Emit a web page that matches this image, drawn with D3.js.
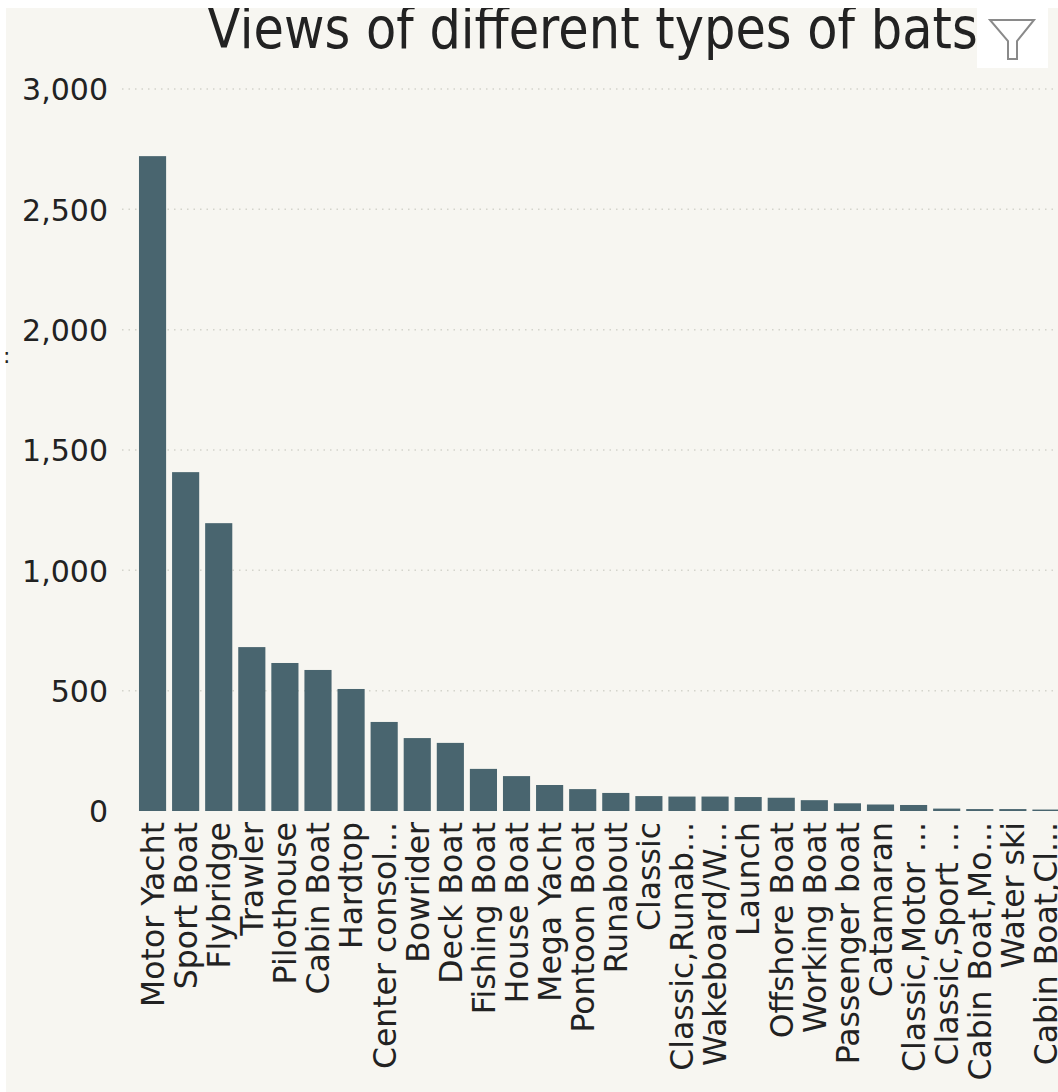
<!DOCTYPE html>
<html>
<head>
<meta charset="utf-8">
<script src="https://cdn.jsdelivr.net/npm/d3@7"></script>
<style>
  html, body { margin: 0; padding: 0; background: #fff; }
  text { font-family: "DejaVu Sans", sans-serif; fill: #222; }
</style>
</head>
<body>
<div id="root"></div>
<script>
const categories = ["Motor Yacht", "Sport Boat", "Flybridge", "Trawler", "Pilothouse", "Cabin Boat", "Hardtop",
  "Center consol...", "Bowrider", "Deck Boat", "Fishing Boat", "House Boat", "Mega Yacht", "Pontoon Boat",
  "Runabout", "Classic", "Classic,Runab...", "Wakeboard/W...", "Launch", "Offshore Boat", "Working Boat",
  "Passenger boat", "Catamaran", "Classic,Motor ...", "Classic,Sport ...", "Cabin Boat,Mo...", "Water ski", "Cabin Boat,Cl..."];
const views = [2721, 1408, 1196, 681, 615, 586, 507, 370, 303, 283, 175, 145, 108, 91, 75, 62, 60, 60, 58, 55, 45, 32, 27, 25, 10, 8, 8, 6];
const yTicks = [0, 500, 1000, 1500, 2000, 2500, 3000];
const title = "Views of different types of bats";

const width = 1058, height = 1092;

const svg = d3.select("#root").append("svg")
  .attr("width", width)
  .attr("height", height)
  .style("display", "block");

// panel, with the white strip left of and above it
svg.append("rect").attr("width", width).attr("height", height).attr("fill", "#fff");
svg.append("rect").attr("x", 6).attr("y", 8).attr("width", width - 6).attr("height", height - 8).attr("fill", "#f7f6f1");

const x = d3.scaleBand().domain(categories).range([136, 1062.5]).paddingInner(0.18).paddingOuter(0.09);
const y = d3.scaleLinear().domain([0, 3000]).range([811, 89]);

// gridlines
svg.append("g").selectAll("line").data(yTicks.filter(d => d > 0)).join("line")
  .attr("x1", 122).attr("x2", width)
  .attr("y1", d => y(d)).attr("y2", d => y(d))
  .attr("stroke", "#d4d4cc").attr("stroke-width", 1.5).attr("stroke-dasharray", "1.5 5");

// bars
svg.append("g").selectAll("rect").data(views).join("rect")
  .attr("x", (d, i) => x(categories[i]))
  .attr("y", d => y(d))
  .attr("width", x.bandwidth())
  .attr("height", d => y(0) - y(d))
  .attr("fill", "#49656f");

// y axis
const yAxis = svg.append("g").attr("transform", "translate(108,0)")
  .call(d3.axisLeft(y).tickValues(yTicks).tickFormat(d3.format(",")).tickSize(0).tickPadding(0));
yAxis.select(".domain").remove();
yAxis.selectAll("text").attr("font-size", 30).attr("dy", "0.36em").style("font-family", '"DejaVu Sans", sans-serif').style("fill", "#222");

// x axis, labels rotated to read bottom to top
const xAxis = svg.append("g").attr("transform", "translate(0,811)")
  .call(d3.axisBottom(x).tickSize(0).tickPadding(0));
xAxis.select(".domain").remove();
xAxis.selectAll("text")
  .attr("transform", "rotate(-90)")
  .attr("x", -11).attr("y", 0).attr("dy", "0.36em")
  .attr("text-anchor", "end")
  .attr("font-size", 31.5)
  .style("font-family", '"DejaVu Sans", sans-serif').style("fill", "#222");

// title, stretched a little and cut off by the white strip at the top
svg.append("text").attr("transform", "translate(207,48) scale(1,1.15)").attr("font-size", 49.5).text(title);
svg.append("rect").attr("width", width).attr("height", 8).attr("fill", "#fff");

// stray colon at the left edge
svg.append("text").attr("x", 3).attr("y", 363).attr("font-size", 22).text(":");

// filter icon
const icon = svg.append("g");
icon.append("rect").attr("x", 977).attr("y", 8).attr("width", 71).attr("height", 60).attr("fill", "#fff");
icon.append("path")
  .attr("d", d3.line()([[990, 20], [1034, 20], [1017, 41], [1017, 59], [1008, 59], [1008, 41]]) + "Z")
  .attr("fill", "none").attr("stroke", "#8a8a8a").attr("stroke-width", 2);
</script>
</body>
</html>
